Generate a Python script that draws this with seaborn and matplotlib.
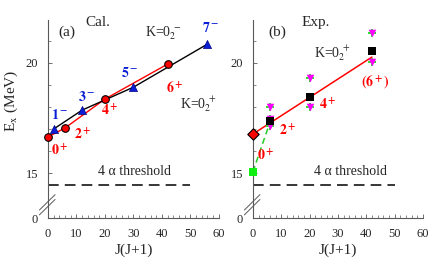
import numpy as np
import pandas as pd
import matplotlib
matplotlib.use("Agg")
import matplotlib.pyplot as plt
import seaborn as sns

# calculated band (a)
cal_pos_jj = [0, 6, 20, 42]
cal_pos_e = [16.64, 17.05, 18.36, 19.95]
cal_pos_lbl = ["0", "2", "4", "6"]
cal_neg_jj = [2, 12, 30, 56]
cal_neg_e = [17.0, 17.86, 18.9, 20.86]
cal_neg_lbl = ["1", "3", "5", "7"]

# experimental (b)
exp_sq_jj = [6, 20, 42]
exp_sq_e = [17.36, 18.45, 20.55]
exp_mag_jj = [6, 6, 6, 20, 20, 42, 42]
exp_mag_e = [18.0, 17.45, 17.15, 19.3, 18.0, 21.36, 20.05]
exp_dia_jj, exp_dia_e = [0], [16.77]
exp_gsq_jj, exp_gsq_e = [0], [15.05]
exp_fit_jj, exp_fit_e = [0, 42], [16.77, 20.27]
exp_green_jj, exp_green_e = [0, 6], [15.05, 17.3]

threshold = 14.44

sns.set_style("ticks")
plt.rcParams['font.family'] = ['Liberation Serif', 'DejaVu Serif']
plt.rcParams['mathtext.fontset'] = 'stix'

BRK = 13.5
K = 0.0404


def fwd(e):
    e = np.asarray(e, dtype=float)
    return np.where(e >= BRK, e, BRK - (BRK - e) * K)


def inv(v):
    v = np.asarray(v, dtype=float)
    return np.where(v >= BRK, v, BRK - (BRK - v) / K)


fig = plt.figure(figsize=(4.36, 2.75), dpi=100)
ax1 = fig.add_axes([0.110, 0.207, 0.392, 0.720])
ax2 = fig.add_axes([0.580, 0.207, 0.390, 0.720])

for ax in (ax1, ax2):
    ax.set_yscale('function', functions=(fwd, inv))
    ax.set_xlim(0, 60)
    ax.set_ylim(0, 21.95)
    for s in ('top', 'right'):
        ax.spines[s].set_visible(False)
    for s in ('left', 'bottom'):
        ax.spines[s].set_color('0.35')
        ax.spines[s].set_linewidth(0.8)
    ax.set_yticks([0, 15, 20])
    ax.set_yticklabels(['0', '15', '20'])
    ax.set_yticks([16, 17, 18, 19, 21], minor=True)
    ax.set_xticks(range(0, 61, 10))
    ax.set_xticks(range(0, 61, 2), minor=True)
    ax.tick_params(direction='in', labelsize=9, length=3, width=0.6, color='0.35', pad=7)
    ax.tick_params(which='minor', direction='in', length=2, width=0.5, color='0.35')
    ax.set_xlabel('J(J+1)', fontsize=11, labelpad=3)
    ax.plot([0, 50], [threshold, threshold], color='black', lw=1.1, ls=(0, (7, 4)))
    # axis break marks
    for off in (0.0, 0.22):
        ya = inv(13.10 + off)
        yb = inv(13.80 + off)
        ax.plot([-3.0, 2.5], [ya, yb], color='0.35', lw=0.7, clip_on=False)

ax1.text(30.5, 15.05, '4 α threshold', fontsize=10, ha='center', va='center')
ax2.text(34.6, 15.05, '4 α threshold', fontsize=10, ha='center', va='center')

ax1.set_ylabel(r'E$_{\rm x}$ (MeV)', fontsize=11)
ax1.yaxis.set_label_coords(-0.165, 0.59)

# ---- panel (a)
sns.lineplot(x=cal_pos_jj, y=cal_pos_e, ax=ax1, color='red', lw=1.0, sort=False)
sns.lineplot(x=cal_neg_jj, y=cal_neg_e, ax=ax1, color='black', lw=1.0, sort=False)
sns.scatterplot(x=cal_pos_jj, y=cal_pos_e, ax=ax1, color='red', edgecolor='black',
                s=30, linewidth=0.8, zorder=5, clip_on=False)
sns.scatterplot(x=cal_neg_jj, y=cal_neg_e, ax=ax1, color='#0a1fd6', marker='^', edgecolor='#000080',
                s=34, linewidth=0.5, zorder=5, clip_on=False)

pos_offsets = [(4.2, -0.6), (6.3, -0.32), (1.8, -0.5), (2.6, -1.1)]
for x, e, l, (dx, de) in zip(cal_pos_jj, cal_pos_e, cal_pos_lbl, pos_offsets):
    ax1.text(x + dx, e + de, r'$\mathbf{%s^+}$' % l, color='red', fontsize=10, ha='center', va='center')
neg_offsets = [(2.2, 0.64), (1.7, 0.6), (-1.2, 0.65), (1.2, 0.75)]
for x, e, l, (dx, de) in zip(cal_neg_jj, cal_neg_e, cal_neg_lbl, neg_offsets):
    ax1.text(x + dx, e + de, r'$\mathbf{%s^-}$' % l, color='#0a1fd6', fontsize=10, ha='center', va='center')

ax1.text(3.5, 21.4, '(a)', fontsize=11, va='center')
ax1.text(13.3, 21.86, 'Cal.', fontsize=11, va='center')
ax1.text(34, 21.35, r'K=0$_2^{\;-}$', fontsize=10, va='center')
ax1.text(46.3, 18.15, r'K=0$_2^{\;+}$', fontsize=10, va='center')

# ---- panel (b)
sns.lineplot(x=exp_fit_jj, y=exp_fit_e, ax=ax2, color='red', lw=1.1)
sns.lineplot(x=exp_green_jj, y=exp_green_e, ax=ax2, color='#22cc22', lw=1.1, ls=(0, (4, 2.5)))
sns.scatterplot(x=exp_mag_jj, y=exp_mag_e, ax=ax2, color='#33dd33', marker='P', s=40,
                linewidth=0, zorder=4)
sns.scatterplot(x=exp_mag_jj, y=exp_mag_e, ax=ax2, color='#ff00ff', marker='v', s=30,
                linewidth=0, zorder=5)
sns.scatterplot(x=exp_sq_jj, y=exp_sq_e, ax=ax2, color='black', marker='s', s=28,
                linewidth=0, zorder=6)
sns.scatterplot(x=exp_dia_jj, y=exp_dia_e, ax=ax2, color='red', marker='D', s=34,
                edgecolor='black', linewidth=0.8, zorder=6, clip_on=False)
sns.scatterplot(x=exp_gsq_jj, y=exp_gsq_e, ax=ax2, color='#11ee11', marker='s', s=40,
                linewidth=0, zorder=6, clip_on=False)

ax2.text(4.6, 15.8, r'$\mathbf{0^+}$', color='red', fontsize=10, ha='center', va='center')
ax2.text(12.4, 16.95, r'$\mathbf{2^+}$', color='red', fontsize=10, ha='center', va='center')
ax2.text(26.5, 18.1, r'$\mathbf{4^+}$', color='red', fontsize=10, ha='center', va='center')
ax2.text(43.1, 19.1, r'$\mathbf{(6^+)}$', color='red', fontsize=10, ha='center', va='center')

ax2.text(5.6, 21.4, '(b)', fontsize=11, va='center')
ax2.text(17, 21.86, 'Exp.', fontsize=11, va='center')
ax2.text(21.5, 20.45, r'K=0$_2^{\;+}$', fontsize=10, va='center')

for ax in (ax1, ax2):
    ax.set_ylim(0, 21.95)
    ax.set_xlim(0, 60)

fig.savefig('out.png', dpi=100)
